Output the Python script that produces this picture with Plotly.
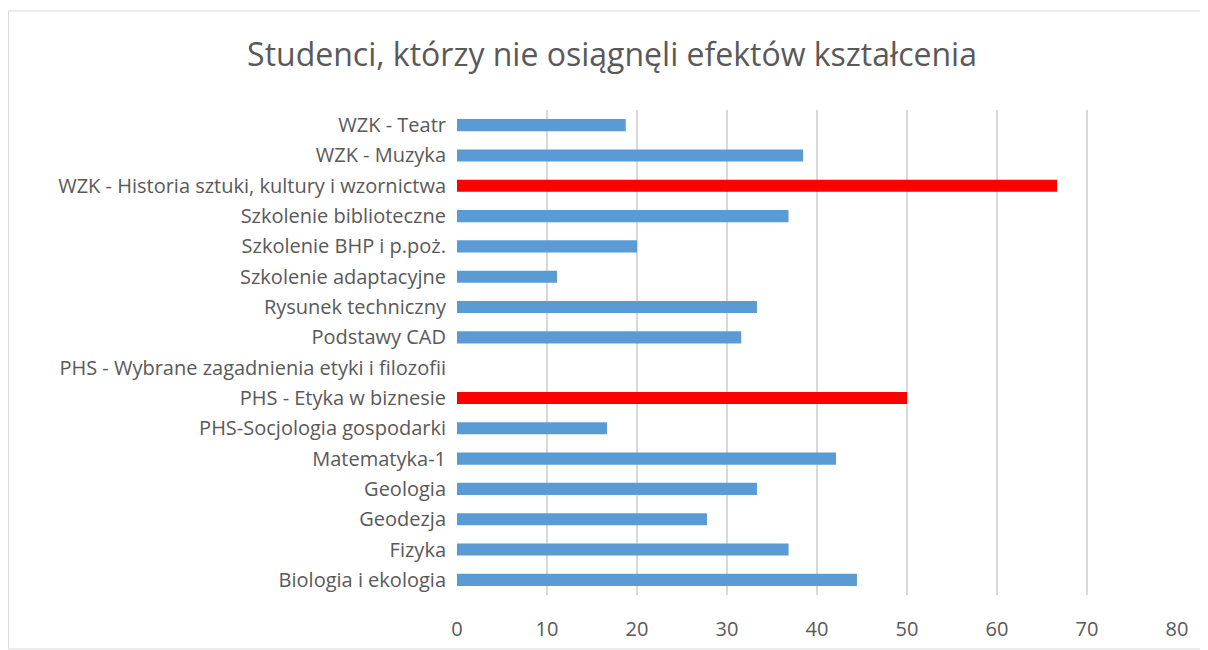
import plotly.graph_objects as go

categories = [
    "Biologia i ekologia",
    "Fizyka",
    "Geodezja",
    "Geologia",
    "Matematyka-1",
    "PHS-Socjologia gospodarki",
    "PHS - Etyka w biznesie",
    "PHS - Wybrane zagadnienia etyki i filozofii",
    "Podstawy CAD",
    "Rysunek techniczny",
    "Szkolenie adaptacyjne",
    "Szkolenie BHP i p.poż.",
    "Szkolenie biblioteczne",
    "WZK - Historia sztuki, kultury i wzornictwa",
    "WZK - Muzyka",
    "WZK - Teatr",
]
values = [44.44, 36.84, 27.78, 33.33, 42.11, 16.67, 50.0, 0.0,
          31.58, 33.33, 11.11, 20.0, 36.84, 66.67, 38.46, 18.75]
highlight = [False, False, False, False, False, False, True, False,
             False, False, False, False, False, True, False, False]
x_ticks = [0, 10, 20, 30, 40, 50, 60, 70, 80]

BLUE = "#5B9BD5"
RED = "#FF0000"
colors = [RED if h else BLUE for h in highlight]

fig = go.Figure(go.Bar(
    y=categories, x=values, orientation="h",
    marker=dict(color=colors, line=dict(width=0)),
    hoverinfo="x+y",
))

# page body has an 8px offset, so the figure is 8px smaller
W, H = 1200, 642
L, R, T, B = 449, 31, 102, 55
pw, ph = W - L - R, H - T - B

FONT = "Open Sans, Noto Sans, sans-serif"

fig.update_layout(
    width=W, height=H,
    margin=dict(l=L, r=R, t=T, b=B, autoexpand=False),
    paper_bgcolor="white", plot_bgcolor="white",
    font=dict(family=FONT, color="#595959", size=20),
    title=dict(text="Studenci, którzy nie osiągnęli efektów kształcenia",
               x=604 / W, xanchor="center", y=1 - 47 / H, yanchor="middle",
               font=dict(size=32, color="#595959", family=FONT)),
    bargap=0.6,
    showlegend=False,
    xaxis=dict(range=[0, 80], tickvals=x_ticks, showgrid=True, gridcolor="#D9D9D9",
               gridwidth=1.5, zeroline=False, showline=False, ticks="", automargin=False,
               tickfont=dict(size=20, color="#595959"), ticklabelstandoff=20, fixedrange=True),
    yaxis=dict(categoryorder="array", categoryarray=categories, showgrid=False,
               zeroline=False, showline=False, ticks="", ticklabelstandoff=10, automargin=False,
               tickfont=dict(size=20, color="#595959"), fixedrange=True),
    shapes=[dict(type="rect", xref="paper", yref="paper",
                 x0=(0.5 - L) / pw, x1=(1198 - L) / pw,
                 y0=(T + ph - 641) / ph, y1=(T + ph - 3) / ph,
                 line=dict(color="#D9D9D9", width=1), fillcolor="rgba(0,0,0,0)", layer="below")],
)

fig.write_html("out.html")
